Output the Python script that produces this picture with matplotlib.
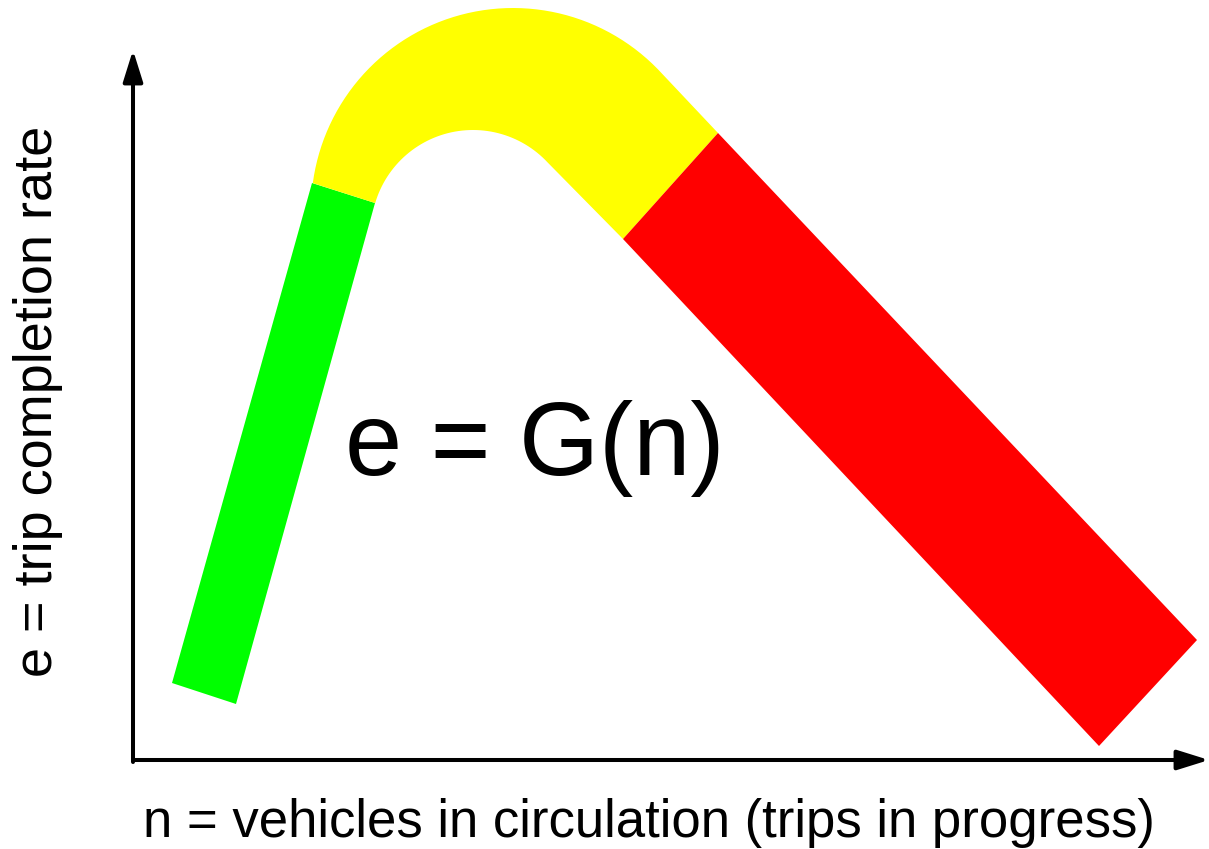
import numpy as np
import matplotlib.pyplot as plt
from matplotlib.patches import Polygon

plt.rcParams['font.family'] = ['Liberation Sans', 'DejaVu Sans']

# corners of the straight parts of the band (n, e)
green_n = [0.39, 1.03, 2.42, 1.79]
green_e = [0.77, 0.56, 5.57, 5.77]
red_n = [5.85, 10.64, 9.66, 4.90]
red_e = [6.27, 1.20, 0.14, 5.21]

# yellow bend: outer and inner arcs (center n, center e, radius)
outer_arc = (3.80, 5.50, 2.02)
inner_arc = (3.40, 5.28, 1.02)
outer_ends = [(1.79, 5.77), (5.24, 6.90)]
inner_ends = [(2.42, 5.57), (4.14, 5.97)]

fig = plt.figure(figsize=(12.09, 8.49), dpi=100)
ax = fig.add_axes([0, 0, 1, 1])
ax.set_xlim(-1.33, 10.76)
ax.set_ylim(-0.89, 7.60)
ax.axis('off')


def arc_points(arc, ends, k=60):
    cx, cy, r = arc
    a0 = np.arctan2(ends[0][1] - cy, ends[0][0] - cx)
    a1 = np.arctan2(ends[1][1] - cy, ends[1][0] - cx)
    t = np.linspace(a0, a1, k)
    return np.column_stack([cx + r * np.cos(t), cy + r * np.sin(t)])


outer = arc_points(outer_arc, outer_ends)
inner = arc_points(inner_arc, inner_ends)
yellow = np.vstack([outer, [[red_n[0], red_e[0]], [red_n[3], red_e[3]]], inner[::-1]])

ax.add_patch(Polygon(np.column_stack([green_n, green_e]), closed=True, fc='#00ff00', ec='none'))
ax.add_patch(Polygon(yellow, closed=True, fc='#ffff00', ec='none'))
ax.add_patch(Polygon(np.column_stack([red_n, red_e]), closed=True, fc='#ff0000', ec='none'))

arrow = dict(arrowstyle='-|>,head_length=0.8,head_width=0.25', lw=2.9, color='black',
             mutation_scale=24, shrinkA=0, shrinkB=0)
ax.annotate('', xy=(10.76, 0), xytext=(0, 0), arrowprops=arrow)
ax.annotate('', xy=(0, 7.10), xytext=(0, -0.02), arrowprops=arrow)

ax.text(4.02, 2.85, 'e = G(n)', fontsize=74, ha='center', va='baseline')
ax.text(5.16, -0.77, 'n = vehicles in circulation (trips in progress)', fontsize=38,
        ha='center', va='baseline')
ax.text(-0.95, 3.59, 'e = trip completion rate', fontsize=39, rotation=90,
        ha='center', va='center')

fig.savefig('out.png', dpi=100)
